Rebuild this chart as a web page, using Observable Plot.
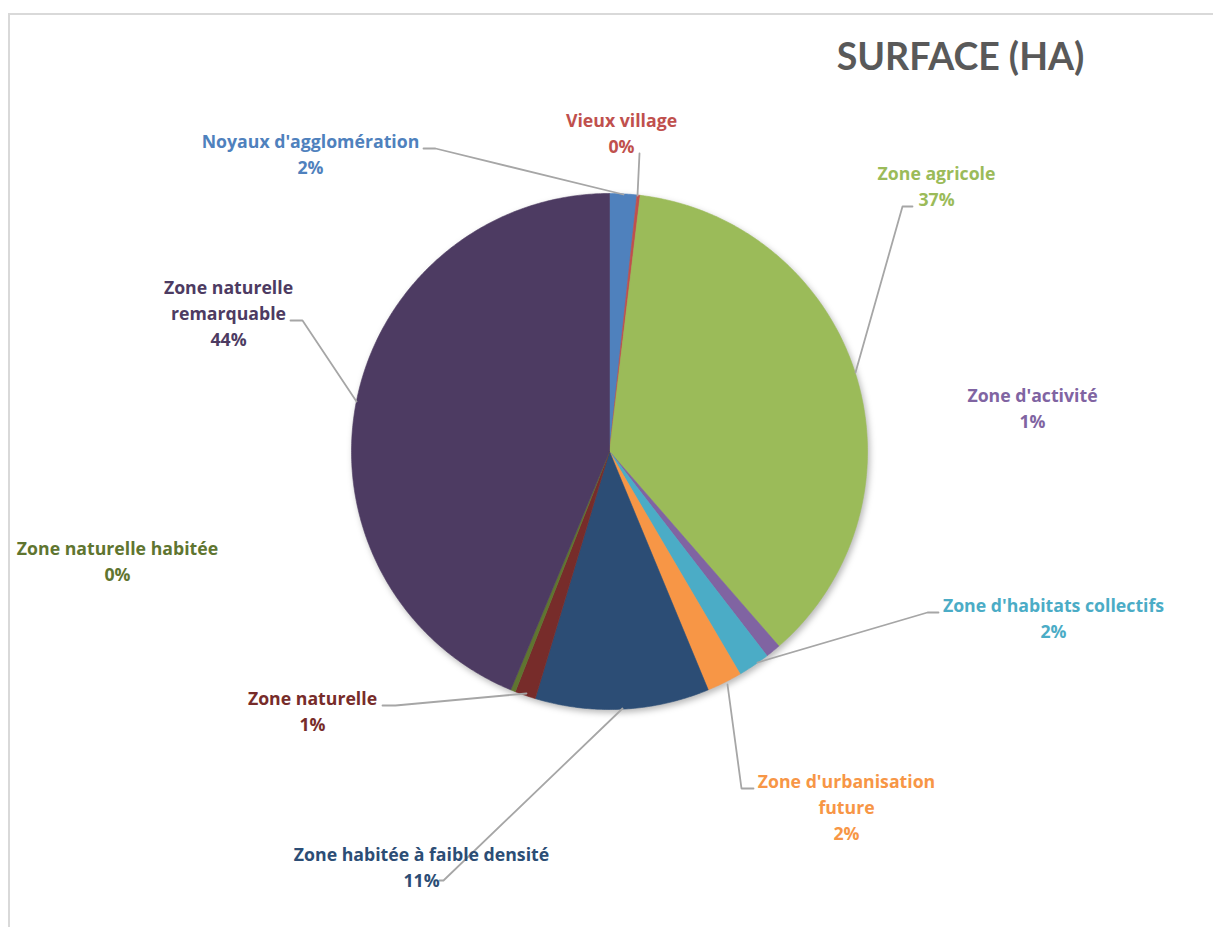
<!DOCTYPE html>
<html>
<head>
<meta charset="utf-8">
<script src="https://cdn.jsdelivr.net/npm/d3@7"></script>
<script src="https://cdn.jsdelivr.net/npm/@observablehq/plot@0.6"></script>
<style>
  html, body { margin: 0; padding: 0; background: #fff; }
  #wrap { position: relative; width: 1213px; height: 927px; overflow: hidden; }
  #border { position: absolute; left: 8px; top: 13px; width: 1300px; height: 1000px;
            border-left: 2px solid #D9D9D9; border-top: 2px solid #D9D9D9; pointer-events: none; }
  g[aria-description="pie"] { filter: drop-shadow(2px 3px 3px rgba(0,0,0,0.28)); }
  g[aria-description="labels"] text { font-family: "Open Sans", Lato, sans-serif; }
  g[aria-description="title"] text { font-family: Lato, "Open Sans", sans-serif; }
</style>
</head>
<body>
<div id="wrap"><div id="border"></div></div>
<script>
// ---- Data (shares of total surface, %) ----
const categories = [
  "Noyaux d'agglomération",
  "Vieux village",
  "Zone agricole",
  "Zone d'activité",
  "Zone d'habitats collectifs",
  "Zone d'urbanisation future",
  "Zone habitée à faible densité",
  "Zone naturelle",
  "Zone naturelle habitée",
  "Zone naturelle remarquable"
];
const values = [1.7, 0.2, 36.7, 0.95, 2.0, 2.2, 10.9, 1.3, 0.3, 43.75];
const colors = ["#4F81BD", "#C0504D", "#9BBB59", "#8064A2", "#4BACC6",
                "#F79646", "#2C4D75", "#772C2A", "#5F7530", "#4D3B62"];
// label names with line breaks as shown in the chart
const labelNames = [
  "Noyaux d'agglomération",
  "Vieux village",
  "Zone agricole",
  "Zone d'activité",
  "Zone d'habitats collectifs",
  "Zone d'urbanisation\nfuture",
  "Zone habitée à faible densité",
  "Zone naturelle",
  "Zone naturelle habitée",
  "Zone naturelle\nremarquable"
];
const title = "SURFACE (HA)";

// ---- Layout (pixels) ----
const W = 1213, H = 927;
const cx = 609, cy = 451, R = 258;
const labelPos = [
  [310, 152], [621, 131], [936, 184], [1032, 406], [1053, 616],
  [846, 805], [421, 865], [312, 709], [117, 559], [228, 311]
];
const leaders = [
  [[423,148],[435,148],[623,194]],
  [[639,153],[637,195]],
  [[912,206],[902,206],[855,372]],
  null,
  [[938,612],[927,612],[757,662]],
  [[753,788],[741,788],[727,684]],
  [[439,880],[443,880],[622,708]],
  [[382,705],[395,705],[526,693]],
  null,
  [[290,320],[302,320],[356,401]]
];

// ---- Build slices through d3.pie ----
const arcs = d3.pie().sort(null).value(d => d)(values);
const slicePts = [];
arcs.forEach((a, i) => {
  const n = Math.max(2, Math.ceil((a.endAngle - a.startAngle) / (Math.PI / 360)));
  slicePts.push({k: i, x: cx, y: cy, c: colors[i]});
  for (let j = 0; j <= n; j++) {
    const t = a.startAngle + (a.endAngle - a.startAngle) * j / n;
    slicePts.push({k: i, x: cx + R * Math.sin(t), y: cy - R * Math.cos(t), c: colors[i]});
  }
  slicePts.push({k: i, x: cx, y: cy, c: colors[i]});
});

const leaderPts = [];
leaders.forEach((L, i) => { if (L) L.forEach(p => leaderPts.push({k: i, x: p[0], y: p[1]})); });

const labels = categories.map((c, i) => ({
  text: labelNames[i] + "\n" + Math.round(values[i]) + "%",
  x: labelPos[i][0], y: labelPos[i][1], c: colors[i]
}));

const chart = Plot.plot({
  width: W, height: H,
  margin: 0,
  x: {domain: [0, W], range: [0, W], axis: null},
  y: {domain: [0, H], range: [0, H], axis: null},
  marks: [
    Plot.line(slicePts, {x: "x", y: "y", z: "k", fill: "c", stroke: "c", strokeWidth: 0.6,
                         curve: "linear", ariaDescription: "pie"}),
    Plot.line(leaderPts, {x: "x", y: "y", z: "k", stroke: "#A6A6A6", strokeWidth: 1.8}),
    Plot.text(labels, {x: "x", y: "y", text: "text", fill: "c", fontSize: 17.7, fontWeight: "bold",
                       lineHeight: 1.469, textAnchor: "middle", lineAnchor: "middle",
                       ariaDescription: "labels"}),
    Plot.text([title], {x: () => 960, y: () => 57, text: d => d, fill: "#595959", fontSize: 37.5,
                        fontWeight: "bold", textAnchor: "middle", lineAnchor: "middle",
                        ariaDescription: "title"})
  ]
});
chart.style.position = "absolute";
chart.style.left = "0";
chart.style.top = "0";
document.getElementById("wrap").prepend(chart);
</script>
</body>
</html>
